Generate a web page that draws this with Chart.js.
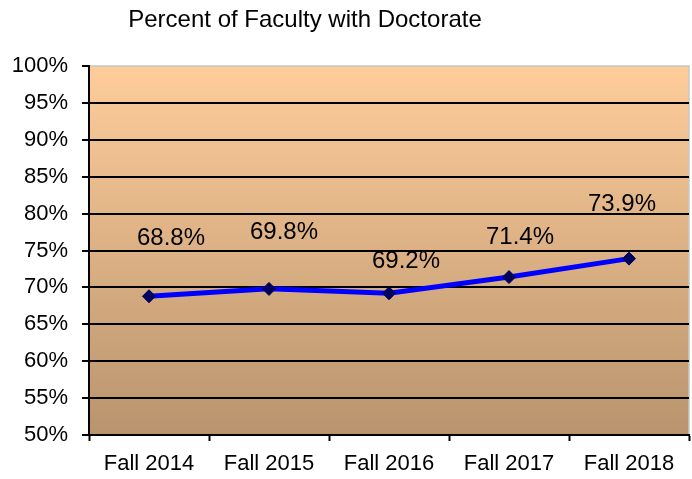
<!DOCTYPE html>
<html>
<head>
<meta charset="utf-8">
<script src="https://cdn.jsdelivr.net/npm/chart.js@4"></script>
<style>
  html, body { margin: 0; padding: 0; background: #fff; }
  #wrap { width: 692px; height: 479px; }
</style>
</head>
<body>
<div id="wrap"><canvas id="facultyChart" width="692" height="479"></canvas></div>
<script>
const titleText = 'Percent of Faculty with Doctorate';
const terms = ['Fall 2014', 'Fall 2015', 'Fall 2016', 'Fall 2017', 'Fall 2018'];
const pctDoctorate = [68.8, 69.8, 69.2, 71.4, 73.9];

const FONT = 'Liberation Sans, Arial, sans-serif';

// plot background: peach at top fading to tan at bottom, thin grey frame on top/right
const plotBackground = {
    id: 'plotBackground',
    beforeDraw(chart) {
        const { ctx, chartArea: a } = chart;
        const g = ctx.createLinearGradient(0, a.top, 0, a.bottom);
        g.addColorStop(0, '#FFCD9B');
        g.addColorStop(1, '#B8946E');
        ctx.save();
        ctx.fillStyle = g;
        ctx.fillRect(a.left, a.top, a.right - a.left, a.bottom - a.top);
        ctx.strokeStyle = '#C8C8C8';
        ctx.lineWidth = 1.5;
        ctx.beginPath();
        ctx.moveTo(a.left, a.top);
        ctx.lineTo(a.right, a.top);
        ctx.lineTo(a.right, a.bottom);
        ctx.stroke();
        ctx.restore();
    }
};

// title sits left of centre, and value labels are placed like Excel did
const labelShift = [[22, -58], [15, -57], [17, -32], [11, -40], [-7, -54]];
const overlays = {
    id: 'overlays',
    afterDraw(chart) {
        const ctx = chart.ctx;
        ctx.save();
        ctx.fillStyle = '#000';
        ctx.textAlign = 'center';
        ctx.textBaseline = 'middle';
        ctx.font = '24px ' + FONT;
        ctx.fillText(titleText, 305, 20);

        ctx.font = '24px ' + FONT;
        const pts = chart.getDatasetMeta(0).data;
        pts.forEach((p, i) => {
            const [dx, dy] = labelShift[i];
            ctx.fillText(pctDoctorate[i].toFixed(1) + '%', p.x + dx, p.y + dy);
        });
        ctx.restore();
    }
};

new Chart(document.getElementById('facultyChart'), {
    type: 'line',
    data: {
        labels: terms,
        datasets: [{
            data: pctDoctorate,
            borderColor: '#0000FF',
            borderWidth: 5,
            pointStyle: 'rectRot',
            pointRadius: 6.5,
            pointBackgroundColor: '#00005E',
            pointBorderColor: '#00005E',
            pointBorderWidth: 1,
            tension: 0
        }]
    },
    options: {
        responsive: false,
        animation: false,
        layout: { autoPadding: false, padding: { top: 66, right: 3, left: 0, bottom: 0 } },
        plugins: {
            legend: { display: false },
            title: { display: false },
            tooltip: { enabled: false }
        },
        scales: {
            x: {
                offset: true,
                grid: {
                    offset: true,
                    drawOnChartArea: false,
                    tickLength: 6,
                    tickColor: '#000',
                    tickWidth: 2
                },
                border: { color: '#000', width: 2 },
                ticks: {
                    color: '#000',
                    padding: 10,
                    maxRotation: 0,
                    font: { family: FONT, size: 22 }
                },
                afterFit(scale) {
                    scale.height = 44;
                    scale.paddingLeft = 0;
                    scale.paddingRight = 0;
                }
            },
            y: {
                min: 50,
                max: 100,
                ticks: {
                    stepSize: 5,
                    color: '#000',
                    padding: 14,
                    font: { family: FONT, size: 22 },
                    callback: v => v + '%'
                },
                grid: {
                    color: c => c.tick && c.tick.value === 100 ? 'rgba(0,0,0,0)' : '#000',
                    lineWidth: 2,
                    tickColor: '#000',
                    tickWidth: 2,
                    tickLength: 7
                },
                border: { color: '#000', width: 2 },
                afterFit(scale) { scale.width = 89; }
            }
        }
    },
    plugins: [plotBackground, overlays]
});
</script>
</body>
</html>
